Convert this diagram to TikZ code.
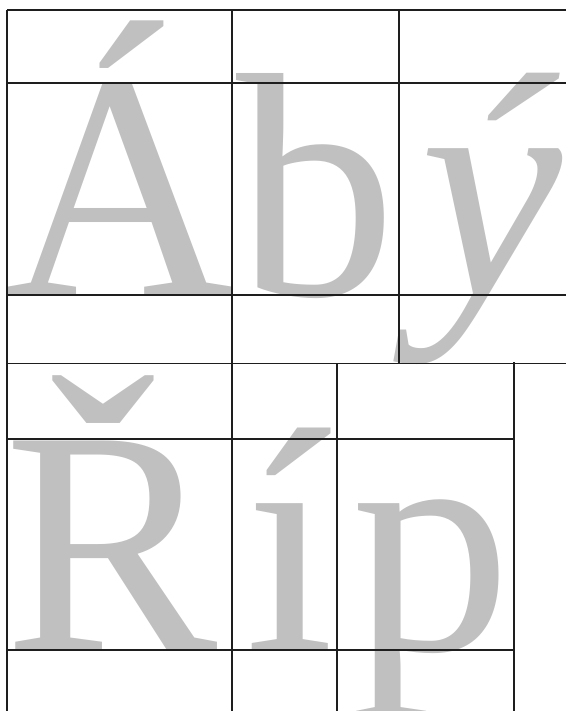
\documentclass[tikz,border=0pt]{standalone}
\usepackage{fontspec}
\setmainfont{Liberation Serif}
\definecolor{glyphgray}{RGB}{192,192,192}
\definecolor{rulecol}{RGB}{30,30,30}
\tikzset{
  glyph/.style={inner sep=0pt, outer sep=0pt, anchor=base west, text=glyphgray,
    font=\fontsize{320}{320}\selectfont},
  rule/.style={draw=rulecol, line width=1.6pt}
}
\begin{document}
\begin{tikzpicture}[x=1pt,y=-1pt]
\useasboundingbox (0,0) rectangle (566,711);
% glyphs
\node[glyph] (A) at (5,295) {Á};
\node[glyph] (b) at (236,295) {b};
\node[glyph] (y) at (420,295) {\itshape ý};
\node[glyph] (R) at (5,650) {Ř};
\node[glyph] (i) at (245,650) {í};
\node[glyph] (p) at (351,650) {p};
% top row grid
\draw[rule] (7,10) -- (566,10);
\draw[rule] (7,83) -- (566,83);
\draw[rule] (7,295) -- (566,295);
\draw[rule] (7,363.5) -- (566,363.5);
\draw[rule] (7,10) -- (7,711);
\draw[rule] (232,10) -- (232,711);
\draw[rule] (399,10) -- (399,363.5);
% bottom row grid
\draw[rule] (7,439) -- (514,439);
\draw[rule] (7,650) -- (514,650);
\draw[rule] (337,363.5) -- (337,711);
\draw[rule] (514,362) -- (514,711);
\end{tikzpicture}
\end{document}
